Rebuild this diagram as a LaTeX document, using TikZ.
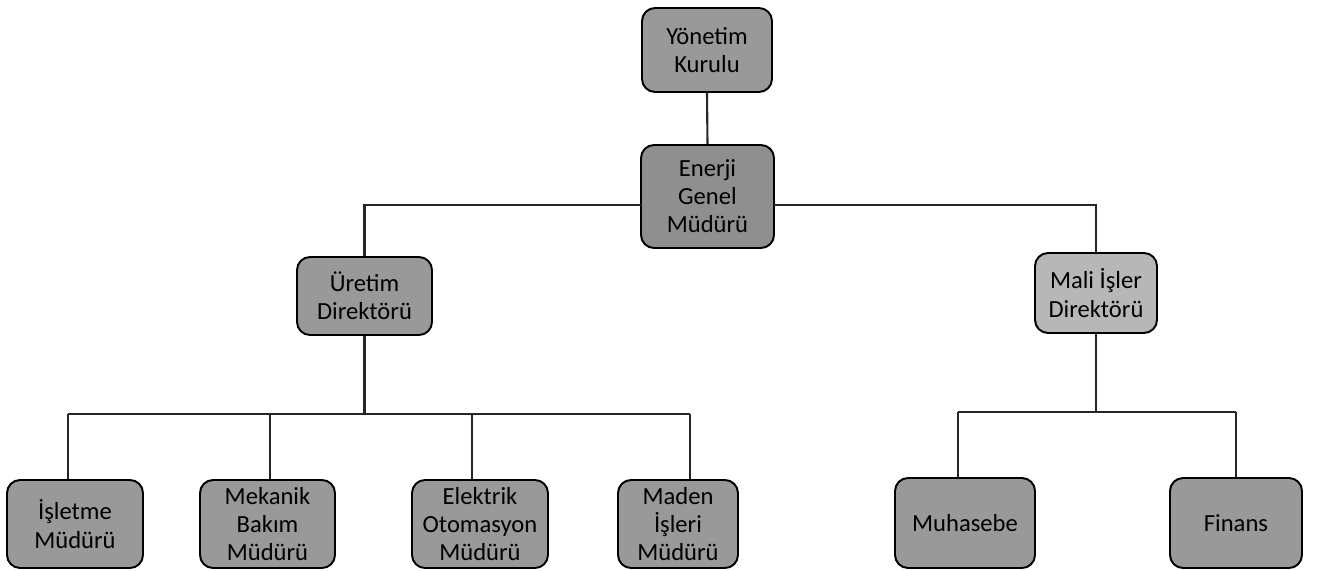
\documentclass[tikz,border=0pt]{standalone}
\usepackage{fontspec}
\setmainfont{Carlito}
\begin{document}
\begin{tikzpicture}[x=0.02cm,y=-0.02cm,
  org/.style={draw=black, line width=1.1pt, rounded corners=0.26cm, fill=boxgray,
    text=black, align=center, inner sep=0pt,
    font=\fontsize{14}{16}\selectfont},
  wire/.style={draw=black!85, line width=1.2pt}]
\definecolor{boxgray}{HTML}{999999}
\definecolor{boxdark}{HTML}{8F8F8F}
\definecolor{boxlight}{HTML}{B7B7B7}
\useasboundingbox (0,0) rectangle (1323,571);
\node[org, minimum width=2.6cm, minimum height=1.68cm] (yk) at (707,50) {Yönetim\\Kurulu};
\node[org, fill=boxdark, minimum width=2.66cm, minimum height=2.06cm] (egm) at (707.5,196.5) {Enerji\\Genel\\Müdürü};
\node[org, minimum width=2.7cm, minimum height=1.56cm] (ur) at (364.5,296) {Üretim\\Direktörü};
\node[org, fill=boxlight, minimum width=2.44cm, minimum height=1.6cm] (mi) at (1096,293) {Mali İşler\\Direktörü};
\node[org, minimum width=2.72cm, minimum height=1.76cm] (b1) at (75,524) {İşletme\\Müdürü};
\node[org, minimum width=2.7cm, minimum height=1.76cm] (b2) at (267.5,524) {Mekanik\\Bakım\\Müdürü};
\node[org, minimum width=2.72cm, minimum height=1.76cm] (b3) at (480,524) {Elektrik\\Otomasyon\\Müdürü};
\node[org, minimum width=2.4cm, minimum height=1.76cm] (b4) at (678,524) {Maden\\İşleri\\Müdürü};
\node[org, minimum width=2.8cm, minimum height=1.8cm] (mu) at (965,523) {Muhasebe};
\node[org, minimum width=2.64cm, minimum height=1.8cm] (fi) at (1236,523) {Finans};
% top
\draw[wire] (yk.south) -- (egm.north);
\coordinate (el) at (641,205);
\coordinate (er) at (774,205);
\draw[wire] (el) -| (ur.north);
\draw[wire] (er) -| (mi.north);
% production branch
\coordinate (uj) at (364.5,414);
\draw[wire] (ur.south) -- (uj);
\coordinate (j1) at (68,414);
\coordinate (j2) at (270,414);
\coordinate (j3) at (472,414);
\coordinate (j4) at (690,414);
\draw[wire] (j1) -- (j4);
\draw[wire] (j1) -- (j1 |- b1.north);
\draw[wire] (j2) -- (j2 |- b2.north);
\draw[wire] (j3) -- (j3 |- b3.north);
\draw[wire] (j4) -- (j4 |- b4.north);
% finance branch
\coordinate (mj) at (1096,412);
\draw[wire] (mi.south) -- (mj);
\coordinate (k1) at (958,412);
\coordinate (k2) at (1236,412);
\draw[wire] (k1) -- (k2);
\draw[wire] (k1) -- (k1 |- mu.north);
\draw[wire] (k2) -- (k2 |- fi.north);
\end{tikzpicture}
\end{document}
